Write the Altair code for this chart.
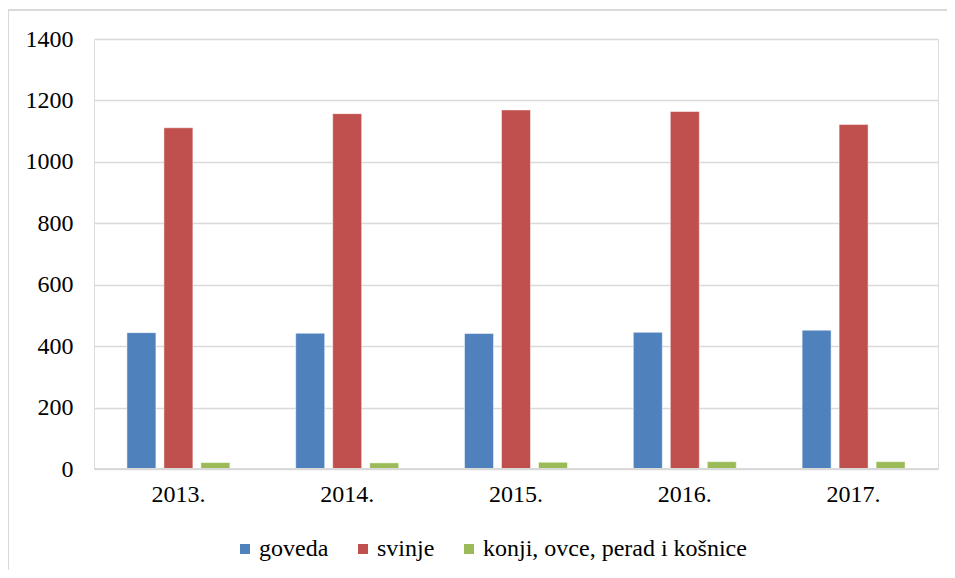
import altair as alt
import pandas as pd

years = ["2013.", "2014.", "2015.", "2016.", "2017."]
series = ["goveda", "svinje", "konji, ovce, perad i košnice"]
goveda = [444, 442, 441, 445, 452]
svinje = [1111, 1157, 1169, 1164, 1122]
ostalo = [21, 20, 22, 24, 24]
colors = ["#4F81BD", "#C0504D", "#9BBB59"]

rows = []
for i, y in enumerate(years):
    for s, vals in zip(series, [goveda, svinje, ostalo]):
        rows.append({"godina": y, "vrsta": s, "vrijednost": vals[i]})
df = pd.DataFrame(rows)

FONT = "Liberation Serif"

bars = alt.Chart(df).mark_bar(stroke="white", strokeOpacity=0.5, strokeWidth=1).encode(
    x=alt.X("godina:N", sort=years, title=None,
            scale=alt.Scale(paddingInner=0.39, paddingOuter=0.195),
            axis=alt.Axis(labelAngle=0, labelPadding=13, ticks=False, domain=False, grid=False,
                          labelFont=FONT, labelFontSize=24)),
    xOffset=alt.XOffset("vrsta:N", sort=series, scale=alt.Scale(paddingInner=0.216, paddingOuter=0)),
    y=alt.Y("vrijednost:Q", title=None,
            scale=alt.Scale(domain=[0, 1400]),
            axis=alt.Axis(values=[0, 200, 400, 600, 800, 1000, 1200, 1400], format="d",
                          labelPadding=21, ticks=False, domain=False,
                          labelFont=FONT, labelFontSize=24,
                          gridColor="#d9d9d9", gridWidth=1.5)),
    color=alt.Color("vrsta:N", sort=series, title=None,
                    scale=alt.Scale(domain=series, range=colors),
                    legend=alt.Legend(orient="none", direction="horizontal", legendX=139, legendY=498,
                                      symbolType="square", symbolSize=100, symbolStrokeWidth=0,
                                      labelFont=FONT, labelFontSize=24, labelColor="black",
                                      labelOffset=2, columnPadding=22, labelLimit=400)),
)

baseline = alt.Chart(pd.DataFrame({"v": [0]})).mark_rule(color="#d9d9d9", strokeWidth=2).encode(
    y="v:Q"
)

border = alt.Chart(pd.DataFrame({"v": [0]})).mark_rect(
    fill=None, stroke="#d9d9d9", strokeWidth=2, clip=False
).encode(x=alt.value(-86), x2=alt.value(900), y=alt.value(-29), y2=alt.value(600))

chart = alt.layer(border, bars, baseline).properties(
    width=844, height=430, autosize="none",
    padding={"left": 86, "top": 31, "right": 9, "bottom": 101},
).configure_view(stroke=None).configure(font=FONT).configure_axis(
    labelFont=FONT, labelFontSize=24, labelColor="black", gridColor="#d9d9d9"
).configure_legend(
    labelFont=FONT, labelFontSize=24, labelColor="black"
)

chart.save("out.html", embed_options={"renderer": "svg", "actions": False})
